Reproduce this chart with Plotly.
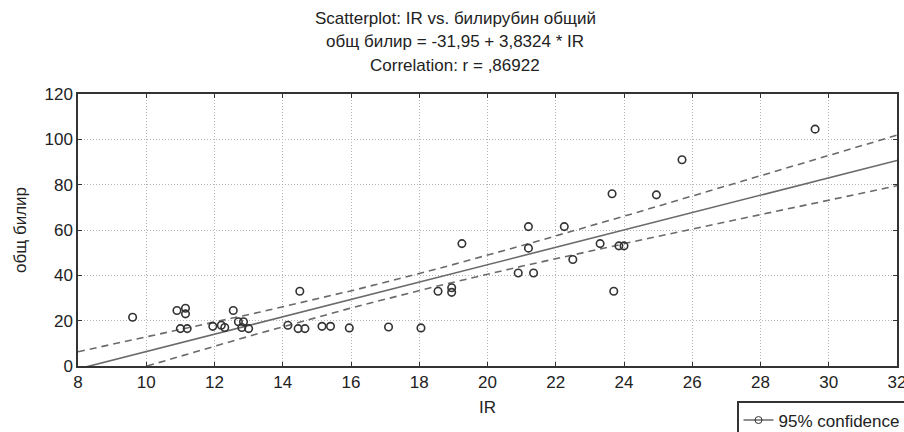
import numpy as np
import plotly.graph_objects as go

# --- data ---
ir_values = [9.6, 10.9, 11.15, 11.15, 11.0, 11.2, 11.95, 12.2, 12.3, 12.55,
             12.7, 12.85, 12.8, 13.0, 14.15, 14.45, 14.5, 14.65, 15.15, 15.4,
             15.95, 17.1, 18.05, 18.55, 18.95, 18.95, 19.25, 20.9, 21.35, 21.2,
             21.2, 22.25, 22.5, 23.3, 23.85, 24.0, 23.65, 23.7, 24.95, 25.7, 29.6]
bili_values = [21.5, 24.5, 25.5, 23.0, 16.5, 16.5, 17.5, 18.0, 17.0, 24.5,
               19.5, 19.5, 17.0, 16.5, 18.0, 16.5, 33.0, 16.5, 17.5, 17.5,
               16.8, 17.2, 16.8, 33.0, 34.5, 32.5, 54.0, 41.0, 41.0, 52.0,
               61.5, 61.5, 47.0, 54.0, 53.0, 53.0, 76.0, 33.0, 75.5, 91.0, 104.5]
intercept = -31.95
slope = 3.8324
t_crit = 2.0227  # t(0.975, df=39)

x_ticks = [8, 10, 12, 14, 16, 18, 20, 22, 24, 26, 28, 30, 32]
y_ticks = [0, 20, 40, 60, 80, 100, 120]

title_lines = ["Scatterplot: IR vs. билирубин общий",
               "общ билир = -31,95 + 3,8324 * IR",
               "Correlation: r = ,86922"]

# --- regression + 95% confidence band ---
x = np.array(ir_values)
y = np.array(bili_values)
n = len(x)
xbar = x.mean()
sxx = ((x - xbar) ** 2).sum()
resid = y - (intercept + slope * x)
s = np.sqrt((resid ** 2).sum() / (n - 2))
xs = np.linspace(x_ticks[0], x_ticks[-1], 200)
yfit = intercept + slope * xs
half = t_crit * s * np.sqrt(1.0 / n + (xs - xbar) ** 2 / sxx)

line_col = "#6a6a6a"
fig = go.Figure()
fig.add_trace(go.Scatter(x=xs, y=yfit, mode="lines",
                         line=dict(color=line_col, width=1.6), showlegend=False))
fig.add_trace(go.Scatter(x=xs, y=yfit + half, mode="lines",
                         line=dict(color=line_col, width=1.6, dash="7px,5px"),
                         showlegend=False))
fig.add_trace(go.Scatter(x=xs, y=yfit - half, mode="lines",
                         line=dict(color=line_col, width=1.6, dash="7px,5px"),
                         showlegend=False))
fig.add_trace(go.Scatter(x=ir_values, y=bili_values, mode="markers",
                         marker=dict(symbol="circle-open", size=7.5,
                                     color="#333333", line=dict(width=1.6)),
                         showlegend=False))
# legend entry
fig.add_trace(go.Scatter(x=[None], y=[None], mode="lines+markers",
                         name="95% confidence",
                         line=dict(color=line_col, width=1.4),
                         marker=dict(symbol="circle-open", size=7, color="#333333"),
                         showlegend=True))

font_family = "Liberation Sans, Arial, sans-serif"
L, R, T, B = 78, 7, 94, 66
pw, ph = 904 - L - R, 432 - T - B
for i, t in enumerate(title_lines):
    fig.add_annotation(text=t, xref="paper", yref="paper",
                       x=(455 - L) / pw, y=1, yshift=(T - 18) - i * 23.5,
                       xanchor="center", yanchor="middle", showarrow=False,
                       font=dict(size=17, color="#222222", family=font_family))

axis_common = dict(showline=True, linecolor="#333333", linewidth=1.5, mirror="ticks",
                   ticks="inside", ticklen=4, tickcolor="#333333",
                   showgrid=True, gridcolor="#b5b5b5", griddash="1px,2px", gridwidth=1,
                   zeroline=False, ticklabeloverflow="allow",
                   tickfont=dict(size=17, color="#222222", family=font_family))

fig.update_layout(
    width=904, height=432,
    margin=dict(l=L, r=R, t=T, b=B, autoexpand=False),
    paper_bgcolor="white", plot_bgcolor="white",
    font=dict(family=font_family, color="#222222"),
    xaxis=dict(range=[8, 32], tickvals=x_ticks, ticktext=[str(v) for v in x_ticks],
               title=dict(text="IR", font=dict(size=17), standoff=10), **axis_common),
    yaxis=dict(range=[0, 120], tickvals=y_ticks, ticktext=[str(v) for v in y_ticks],
               title=dict(text="общ билир", font=dict(size=17), standoff=14), **axis_common),
    legend=dict(x=(737 - L) / pw, y=-(401 - (432 - B)) / ph,
                xanchor="left", yanchor="top", bgcolor="white", itemwidth=30,
                bordercolor="#333333", borderwidth=1.5,
                font=dict(size=17, color="#222222", family=font_family)),
)

fig.write_html("out.html")
